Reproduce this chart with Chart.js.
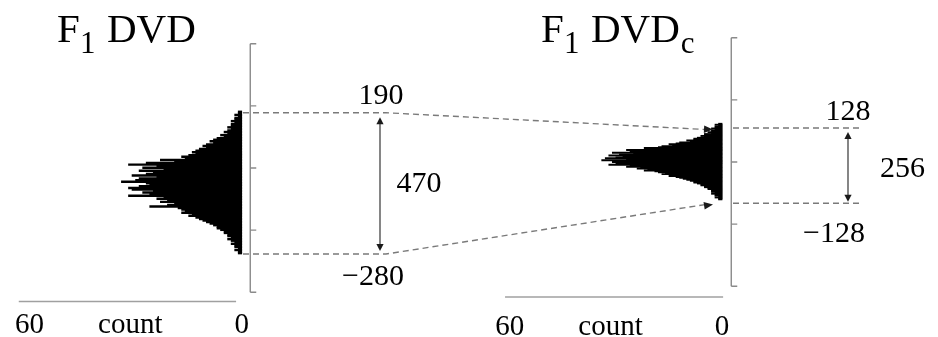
<!DOCTYPE html>
<html><head><meta charset="utf-8">
<script src="https://cdn.jsdelivr.net/npm/chart.js@4.4.1/dist/chart.umd.min.js"></script>
<style>html,body{margin:0;padding:0;background:#fff}#wrap{width:938px;height:337px;position:relative}</style>
</head><body><div id="wrap"><canvas id="c"></canvas></div>
<script>
// ---- data ----
const leftBinStart = 178;   // centre of the top bin (DVD units)
const leftBinWidth = 5;
const leftCounts = [1,1,2,1,2,2,3,2,3,3,4,3,4,5,4,6,5,7,8,9,8,10,11,10,12,13,14,13,15,17,16,23,19,27,32,24,28,22,29,25,27,31,24,29,30,34,27,26,29,32,31,25,28,26,32,22,24,21,23,19,21,26,18,17,16,17,14,15,13,12,11,10,9,8,7,7,6,5,5,4,4,3,4,3,2,3,2,2,1,2,1,1];
const rightBinStart = 125;
const rightBinWidth = 3;
const rightCounts = [1,2,1,2,2,3,2,3,3,4,3,5,4,6,5,7,8,8,10,9,12,13,15,14,17,18,22,21,27,24,26,31,25,29,32,28,30,33,27,34,29,31,28,30,32,26,27,23,24,21,22,19,18,16,17,14,15,13,12,11,10,9,8,8,7,6,6,5,5,4,4,3,3,3,2,3,2,2,1,2,1,1];
const axisTicks = [400, 200, 0, -200, -400];
const countTicks = [60, 0];
const countTitle = 'count';
const leftRange = [178, -277];     // dashed boundary lines, left panel
const rightRange = [109.5, -133];  // dashed boundary lines, right panel
const leftLabels = ['190', '\u2212280', '470'];
const rightLabels = ['128', '\u2212128', '256'];
const leftTitle = ['F', '1', 'DVD', ''];
const rightTitle = ['F', '1', 'DVD', 'c'];

const SERIF = '"Liberation Serif", "DejaVu Serif", serif';

function head(ctx, x, y, ang, len, hw) {
  const c = Math.cos(ang), s = Math.sin(ang);
  ctx.beginPath();
  ctx.moveTo(x, y);
  ctx.lineTo(x - len * c + hw * s, y - len * s - hw * c);
  ctx.lineTo(x - len * c - hw * s, y - len * s + hw * c);
  ctx.closePath();
  ctx.fill();
}

const decor = {
  id: 'decor',
  afterDatasetsDraw(chart) {
    const ctx = chart.ctx;
    const { xL, xR, yL, yR } = chart.scales;
    ctx.save();

    // vertical axes with ticks pointing right
    [[xL, yL, -2.4], [xR, yR, -2.6]].forEach(([xs, ys, at]) => {
      const x = xs.getPixelForValue(at);
      ctx.strokeStyle = '#8a8a8a';
      ctx.lineWidth = 1.4;
      ctx.beginPath();
      ctx.moveTo(x, ys.getPixelForValue(axisTicks[0]));
      ctx.lineTo(x, ys.getPixelForValue(axisTicks[axisTicks.length - 1]));
      axisTicks.forEach(t => {
        const y = ys.getPixelForValue(t);
        ctx.moveTo(x, y);
        ctx.lineTo(x + 6, y);
      });
      ctx.stroke();
    });

    // count axes
    [[xL, 301.5, 63, 1.6, 333], [xR, 297, 61.3, -0.3, 335]].forEach(([xs, ly, a, b, by]) => {
      ctx.strokeStyle = '#a0a0a0';
      ctx.lineWidth = 1.5;
      ctx.beginPath();
      ctx.moveTo(xs.getPixelForValue(a), ly);
      ctx.lineTo(xs.getPixelForValue(b), ly);
      ctx.stroke();
      ctx.fillStyle = '#000';
      ctx.font = '29px ' + SERIF;
      ctx.textAlign = 'center';
      ctx.textBaseline = 'alphabetic';
      countTicks.forEach(t => ctx.fillText(String(t), xs.getPixelForValue(t), by));
      ctx.fillText(countTitle, xs.getPixelForValue(31.5), by);
    });

    // dashed connector lines
    const lT = yL.getPixelForValue(leftRange[0]), lB = yL.getPixelForValue(leftRange[1]);
    const rT = yR.getPixelForValue(rightRange[0]), rB = yR.getPixelForValue(rightRange[1]);
    ctx.strokeStyle = '#7a7a7a';
    ctx.lineWidth = 1.4;
    ctx.setLineDash([6, 4]);
    ctx.beginPath();
    ctx.moveTo(243, lT); ctx.lineTo(386, lT); ctx.lineTo(705, rT + 1.5);
    ctx.moveTo(243, lB); ctx.lineTo(386, lB); ctx.lineTo(705, rB + 1.3);
    ctx.moveTo(733, rT); ctx.lineTo(862, rT);
    ctx.moveTo(733, rB); ctx.lineTo(862, rB);
    ctx.stroke();
    ctx.setLineDash([]);
    ctx.fillStyle = '#1a1a1a';
    head(ctx, 713, rT + 1.6, Math.atan2(rT - lT, 713 - 386), 9, 3.8);
    head(ctx, 713, rB + 1.1, Math.atan2(rB - lB, 713 - 386), 9, 3.8);

    // vertical double arrows
    [[380, lT + 4.5, lB - 3], [848, rT + 4, rB - 1.5]].forEach(([x, t, b]) => {
      ctx.strokeStyle = '#444';
      ctx.lineWidth = 1.3;
      ctx.beginPath();
      ctx.moveTo(x, t + 5); ctx.lineTo(x, b - 5);
      ctx.stroke();
      ctx.fillStyle = '#1a1a1a';
      head(ctx, x, t, -Math.PI / 2, 7, 3.6);
      head(ctx, x, b, Math.PI / 2, 7, 3.6);
    });

    // range labels
    ctx.fillStyle = '#000';
    ctx.font = '30px ' + SERIF;
    ctx.textAlign = 'center';
    ctx.textBaseline = 'alphabetic';
    ctx.fillText(leftLabels[0], 381, 104);
    ctx.fillText(leftLabels[1], 373, 285);
    ctx.fillText(leftLabels[2], 419, 192);
    ctx.fillText(rightLabels[0], 848, 120);
    ctx.fillText(rightLabels[1], 834, 241.5);
    ctx.fillText(rightLabels[2], 902.5, 177);

    // panel titles
    ctx.textAlign = 'left';
    [[0, leftTitle], [484, rightTitle]].forEach(([dx, p]) => {
      ctx.font = '41px ' + SERIF;
      ctx.fillText(p[0], 57 + dx, 42);
      ctx.font = '31px ' + SERIF;
      ctx.fillText(p[1], 80 + dx, 53);
      ctx.font = '41px ' + SERIF;
      ctx.fillText(p[2], 107 + dx, 42);
      const w = ctx.measureText(p[2]).width;
      ctx.font = '31px ' + SERIF;
      if (p[3]) ctx.fillText(p[3], 107 + dx + w + 1, 53);
    });

    ctx.restore();
  }
};

new Chart(document.getElementById('c'), {
  type: 'bar',
  data: {
    datasets: [
      { data: leftCounts.map((c, i) => ({ x: c, y: leftBinStart - i * leftBinWidth })), xAxisID: 'xL', yAxisID: 'yL',
        backgroundColor: '#000', borderWidth: 0, barThickness: 1.8 },
      { data: rightCounts.map((c, i) => ({ x: c, y: rightBinStart - i * rightBinWidth })), xAxisID: 'xR', yAxisID: 'yR',
        backgroundColor: '#000', borderWidth: 0, barThickness: 1.3 }
    ]
  },
  options: {
    indexAxis: 'y',
    responsive: true,
    maintainAspectRatio: false,
    animation: false,
    events: [],
    layout: { padding: 0 },
    plugins: { legend: { display: false }, tooltip: { enabled: false } },
    scales: {
      xL: { type: 'linear', axis: 'x', reverse: true, min: -196.7, max: 68.3, bounds: 'data', display: false, offset: false },
      xR: { type: 'linear', axis: 'x', reverse: true, min: -61.0, max: 203.97, bounds: 'data', display: false, offset: false },
      yL: { type: 'linear', axis: 'y', min: -544.28, max: 541.06, bounds: 'data', display: false, offset: false },
      yR: { type: 'linear', axis: 'y', min: -563.61, max: 521.74, bounds: 'data', display: false, offset: false }
    }
  },
  plugins: [decor]
});
</script>
</body></html>
